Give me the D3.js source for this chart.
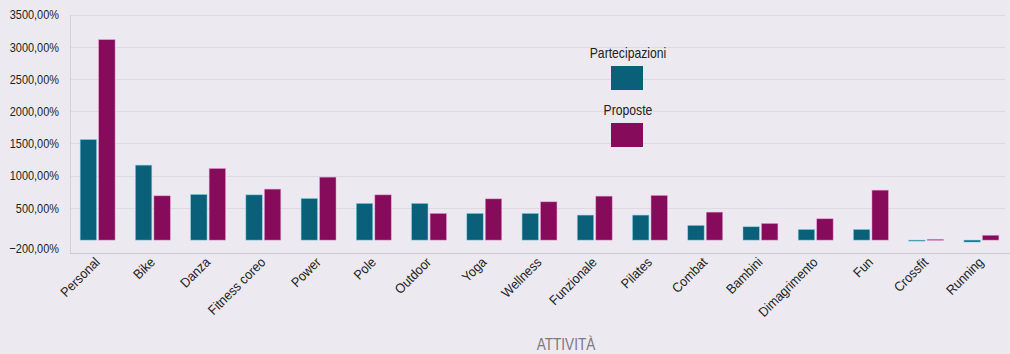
<!DOCTYPE html>
<html><head><meta charset="utf-8">
<script src="https://cdn.jsdelivr.net/npm/d3@7"></script>
<style>
html,body{margin:0;padding:0;background:#eceaf0;}
svg{display:block;font-family:"Liberation Sans",Arial,sans-serif;}
</style></head>
<body><svg id="c" width="1010" height="354"></svg>
<script>
const categories = ["Personal","Bike","Danza","Fitness coreo","Power","Pole","Outdoor","Yoga","Wellness","Funzionale","Pilates","Combat","Bambini","Dimagrimento","Fun","Crossfit","Running"];
const partecipazioni = [1560,1163,708,702,646,569,569,414,414,388,388,228,207,165,165,-8,-30];
const proposte = [3110,687,1111,791,977,702,414,640,594,682,693,434,258,331,775,12,75];
const yTicks = [-200,500,1000,1500,2000,2500,3000,3500];
const seriesNames = ["Partecipazioni","Proposte"];
const colors = ["#0b6079","#870b5b"];
const strokes = ["#7fd3ea","#e79ad0"];

(function(){
const svg = d3.select("#c");
const W = 1010, H = 354;
svg.append("rect").attr("width",W).attr("height",H).attr("fill","#eceaf0");

const mLeft = 70, mRight = 1009, mTop = 14.5, mBottom = 253;
const x = d3.scaleBand().domain(categories).range([mLeft,mRight]).paddingInner(0.35).paddingOuter(0.175);
const xs = d3.scaleBand().domain(seriesNames).range([0,x.bandwidth()]).paddingInner(0.06);
const y = d3.scaleLinear().domain([-200,3500]).range([mBottom,mTop]);

const loc = d3.formatLocale({decimal:",",thousands:"",grouping:[3],currency:["","€"]});
const fmt = v => loc.format(".2f")(v) + "%";

function condense(sel, f){
  sel.each(function(){
    const L = this.getComputedTextLength();
    d3.select(this).attr("textLength", (L*f).toFixed(2)).attr("lengthAdjust","spacingAndGlyphs");
  });
}

// gridlines
svg.append("g").selectAll("line").data(yTicks.filter(t=>t>-200)).join("line")
  .attr("x1",mLeft).attr("x2",1005).attr("y1",d=>Math.round(y(d))+0.5).attr("y2",d=>Math.round(y(d))+0.5)
  .attr("stroke","#dcdbe2").attr("stroke-width",1);

// y axis
const ya = svg.append("g").attr("transform",`translate(${mLeft},0)`)
  .call(d3.axisLeft(y).tickValues(yTicks).tickFormat(fmt).tickSize(0).tickPadding(11));
ya.select(".domain").attr("stroke","#d3d2d8");
ya.selectAll("text").attr("font-size",13.5).attr("fill","#222").attr("font-family","Liberation Sans, Arial, sans-serif");
ya.selectAll(".tick").filter(d=>d===-200).select("text").attr("y",-5);
condense(ya.selectAll("text"), 0.81);

// bars
const groups = svg.append("g").selectAll("g").data(categories).join("g")
  .attr("transform",d=>`translate(${x(d)},0)`);
groups.selectAll("rect").data((d,i)=>[partecipazioni[i],proposte[i]].map((v,k)=>({k,v}))).join("rect")
  .attr("x",d=>xs(seriesNames[d.k])+0.5)
  .attr("width",xs.bandwidth()-1)
  .attr("y",d=>Math.min(y(d.v),y(0)))
  .attr("height",d=>Math.max(1,Math.abs(y(d.v)-y(0))))
  .attr("fill",d=>colors[d.k])
  .attr("stroke",d=>strokes[d.k]).attr("stroke-width",0.6).attr("stroke-opacity",0.8);

// x axis
const xa = svg.append("g").attr("transform",`translate(0,${mBottom})`)
  .call(d3.axisBottom(x).tickSize(0).tickPadding(0));
xa.select(".domain").attr("stroke","#c9c8ce").attr("d",`M${mLeft},0.5H${W}`);
xa.selectAll("text").attr("font-size",13.5).attr("fill","#222").attr("font-family","Liberation Sans, Arial, sans-serif")
  .attr("text-anchor","end").attr("dy",0)
  .attr("transform","translate(3,10) rotate(-45)");
condense(xa.selectAll("text"), 0.92);

// legend
const lg = svg.append("g");
const legY = [58,115];
seriesNames.forEach((n,i)=>{
  const t = lg.append("text").attr("x",628).attr("y",legY[i]).attr("text-anchor","middle")
    .attr("font-size",14.5).attr("fill","#222").text(n);
  condense(t, 0.84);
  lg.append("rect").attr("x",611).attr("y",legY[i]+8).attr("width",32).attr("height",24)
    .attr("fill",colors[i]);
});

// x title
const tt = svg.append("text").attr("x",566).attr("y",350).attr("text-anchor","middle")
  .attr("font-size",17).attr("fill","#7a7980").text("ATTIVITÀ");
condense(tt, 0.8);
})();
</script></body></html>
